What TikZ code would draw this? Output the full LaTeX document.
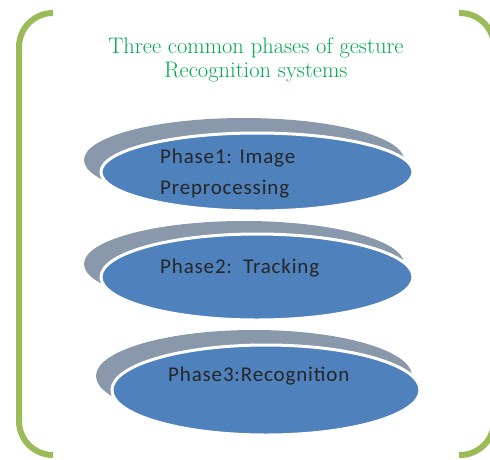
\documentclass[tikz,border=0pt]{standalone}
\usepackage{fontspec}
\usepackage{tikz}
\usetikzlibrary{calc}
\newfontfamily\phasefont[LetterSpace=4]{Carlito}
\definecolor{bracketgreen}{RGB}{155,187,89}
\definecolor{titlegreen}{RGB}{0,170,80}
\definecolor{phaseblue}{RGB}{79,129,189}
\definecolor{shadowgray}{RGB}{138,152,172}

\tikzset{
  shadowell/.style={fill=shadowgray},
  phaseell/.style={fill=phaseblue,draw=white,line width=3pt},
  phasetext/.style={anchor=base west,inner sep=0pt,text=black!85,font=\phasefont\fontsize{21}{25}\selectfont},
}

\begin{document}
\begin{tikzpicture}[x=1pt,y=-1pt]
    \useasboundingbox (0,0) rectangle (490,459);

    % Bracket frame
    \draw [bracketgreen,line width=6pt,rounded corners=34pt]
        (53,13) -- (19,13) -- (19,455) -- (53,455);
    \draw [bracketgreen,line width=6pt,rounded corners=34pt]
        (459,13) -- (494,13) -- (494,455) -- (459,455);

    % Heading
    \node (title) [align=center,text=titlegreen,inner sep=0pt,font=\fontsize{22.5}{23.5}\selectfont]
        at (256,60) {Three common phases of gesture\\Recognition systems};

    % Phase ellipses
	\coordinate (ellA) at (257,172);
	\coordinate (ellB) at (257,277);
	\coordinate (ellC) at (266,390);

    \fill[shadowell] ($(ellA)+(-13,-12)$) ellipse [x radius=160, y radius=42];
    \draw[phaseell] (ellA) ellipse [x radius=156, y radius=39];

    \fill[shadowell] ($(ellB)+(-13,-13)$) ellipse [x radius=160, y radius=43];
    \draw[phaseell] (ellB) ellipse [x radius=156, y radius=43];

    \fill[shadowell] ($(ellC)+(-12,-14)$) ellipse [x radius=158, y radius=46];
    \draw[phaseell] (ellC) ellipse [x radius=154, y radius=45];

    \node (phaseA) [phasetext] at (160,163) {Phase1: Image};
    \node (phaseAb) [phasetext] at (160,194) {Preprocessing};
    \node (phaseB) [phasetext] at (160,273) {Phase2:\ \ Tracking};
    \node (phaseC) [phasetext] at (168,381) {Phase3:Recognition};

\end{tikzpicture}
\end{document}
